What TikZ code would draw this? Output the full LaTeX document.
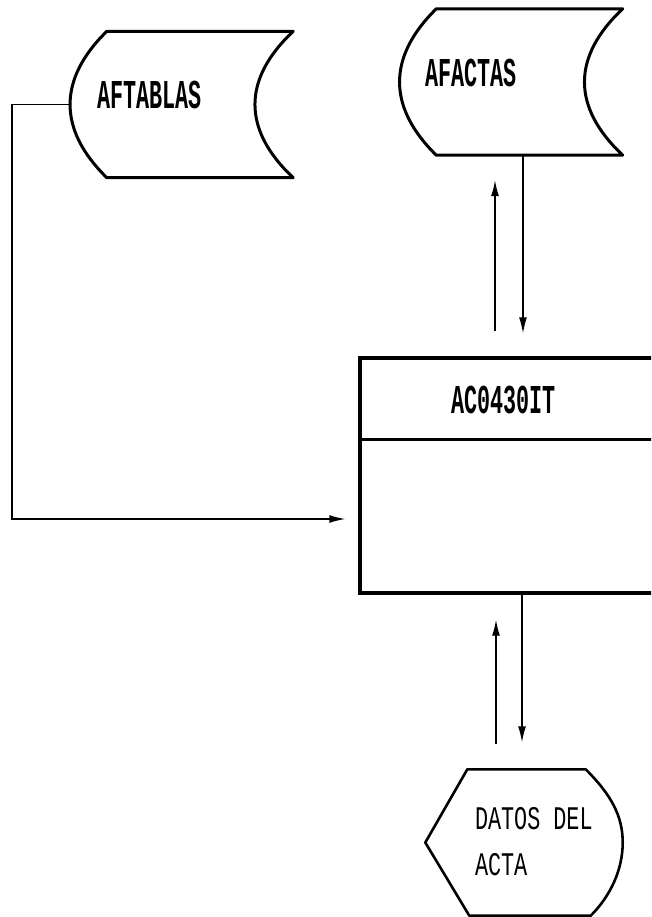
\documentclass[tikz,border=0pt]{standalone}
\usepackage{fontspec}
\newfontfamily\titlefont[FakeStretch=0.53]{Liberation Mono}
\newfontfamily\datafont[FakeStretch=0.66]{Liberation Mono}
\usetikzlibrary{positioning,arrows.meta}

\begin{document}
\begin{tikzpicture}[->, >={Latex[length=16pt,width=8pt]}, x=1pt, y=-1pt, line width=1.4pt, on grid,
	store/.style={minimum width=222pt, minimum height=145pt, inner sep=0pt},
	outline/.style={-, line width=3pt, line join=round},
	title/.style={font=\titlefont\bfseries\fontsize{41}{44}\selectfont, inner sep=0pt, anchor=west},
	data/.style={font=\datafont\fontsize{33}{46}\selectfont, inner sep=0pt, anchor=west, align=left}]
	\useasboundingbox (0,0) rectangle (651,917);
	\clip (0,0) rectangle (651,917);

	\node[store] (tablas) at (181.5,104.5) {};
	\node[store] (actas) at (511,82) {};
	\node[draw, line width=3.4pt, minimum width=298pt, minimum height=235pt] (prog) at (509,475.5) {};
	\node[minimum width=196pt, minimum height=145pt, inner sep=0pt] (datos) [below=367pt of prog, xshift=15pt] {};

	% files
	\foreach \n in {tablas, actas}
		\draw[outline] ([xshift=37pt]\n.north west) -- (\n.north east)
			.. controls +(-51,48) and +(-51,-48) .. (\n.south east)
			-- ([xshift=37pt]\n.south west)
			.. controls +(-49,-48) and +(-49,48) .. ([xshift=37pt]\n.north west) -- cycle;

	% display
	\draw[outline, line width=2.6pt] ([xshift=42pt]datos.north west) -- ([xshift=-37pt]datos.north east)
		.. controls +(25,25) and +(0,-27) .. (datos.east)
		.. controls +(0,27) and +(20,-20) .. ([xshift=-32pt]datos.south east)
		-- ([xshift=44pt]datos.south west) -- (datos.west) -- cycle;

	\draw[outline] ([yshift=-83pt]prog.north west) -- ([yshift=-83pt]prog.north east);

	\node[title] (tablastxt) at ([xshift=27pt, yshift=9.5pt]tablas.west) {AFTABLAS};
	\node[title] (actastxt) at ([xshift=25pt, yshift=9pt]actas.west) {AFACTAS};
	\node[title] (progtxt) at ([xshift=92pt, yshift=-44pt]prog.north west) {AC0430IT};
	\node[data] (datostxt) at ([xshift=49pt, yshift=1pt]datos.west) {DATOS DEL\\ACTA};

	\draw[shorten <=25pt, shorten >=25pt] ([xshift=-14pt]prog.north) -- ([xshift=-14pt]prog.north |- actas.south);
	\draw[shorten >=23pt] ([xshift=14pt]prog.north |- actas.south) -- ([xshift=14pt]prog.north);

	\draw[shorten <=25pt, shorten >=25pt] ([xshift=-13pt]prog.south |- datos.north) -- ([xshift=-13pt]prog.south);
	\draw[shorten >=27pt] ([xshift=13pt]prog.south) -- ([xshift=13pt]prog.south |- datos.north);

	\draw[shorten >=13pt] (tablas.west) -- ++(-58,0) |- ([yshift=-43.5pt]prog.west);
\end{tikzpicture}
\end{document}
